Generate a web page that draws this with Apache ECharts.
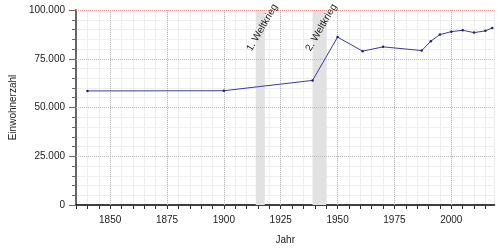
<!DOCTYPE html>
<html><head><meta charset="utf-8">
<script src="https://cdn.jsdelivr.net/npm/echarts@6/dist/echarts.min.js"></script>
<style>html,body{margin:0;padding:0;background:#fff}#c{width:500px;height:250px}</style>
</head><body><div id="c"></div>
<script>
const years = [1840,1900,1939,1950,1961,1970,1987,1991,1995,2000,2005,2010,2015,2018];
const population = [58500,58600,63900,86100,78900,81100,79200,84000,87400,88900,89600,88400,89300,90800];
const majorYears = [1850,1875,1900,1925,1950,1975,2000];
const majorValues = [25000,50000,75000];
const topValue = 100000;
const warNames = ['1. Weltkrieg','2. Weltkrieg'];
const warStart = [1914,1939];
const warEnd = [1918,1945];

const FONT = 'Liberation Sans, Arial, sans-serif';
const fmtNum = v => String(v).replace(/\B(?=(\d{3})+(?!\d))/g, '.');

const chart = echarts.init(document.getElementById('c'), null, {renderer:'canvas'});
const option = {
  animation: false,
  backgroundColor: '#fff',
  grid: {left: 75, top: 10, right: 5.5, bottom: 44, containLabel: false},
  xAxis: {
    type: 'value', min: 1835, max: 2019, interval: 5,
    name: 'Jahr', nameLocation: 'middle', nameGap: 30,
    nameTextStyle: {fontFamily: FONT, fontSize: 10, color: '#222'},
    axisLine: {show: true, onZero: false, lineStyle: {color: '#000', width: 1.5}},
    axisTick: {show: true, length: 4, lineStyle: {color: '#333'}},
    axisLabel: {margin: 10, fontFamily: FONT, fontSize: 10, color: '#222',
      formatter: v => (v % 25 === 0 ? String(v) : ''), showMaxLabel: false},
    splitLine: {show: true, lineStyle: {color: '#eeeeee', width: 1}}
  },
  yAxis: {
    type: 'value', min: 0, max: 100000, interval: 25000,
    name: 'Einwohnerzahl', nameLocation: 'middle', nameGap: 58,
    nameTextStyle: {fontFamily: FONT, fontSize: 10, color: '#222'},
    axisLine: {show: true, lineStyle: {color: '#666', width: 2}},
    axisTick: {show: true, length: 7, lineStyle: {color: '#666'}},
    minorTick: {show: true, splitNumber: 5, length: 4, lineStyle: {color: '#666'}},
    minorSplitLine: {show: true, lineStyle: {color: '#eeeeee', width: 1}},
    axisLabel: {margin: 11, fontFamily: FONT, fontSize: 10, color: '#222', formatter: v => fmtNum(v)},
    splitLine: {show: false}
  },
  series: [{
    type: 'line',
    data: years.map((y, i) => [y, population[i]]),
    lineStyle: {color: '#3c3ca0', width: 1},
    itemStyle: {color: '#22226e'},
    symbol: 'circle', symbolSize: 2.5, showSymbol: true,
    z: 5,
    markArea: {
      silent: true,
      itemStyle: {color: '#e2e2e2'},
      label: {show: false},
      data: warStart.map((s, i) => [{xAxis: s}, {xAxis: warEnd[i]}])
    },
    markLine: {
      silent: true, symbol: 'none', animation: false,
      label: {show: false},
      lineStyle: {type: 'dotted', color: '#b8b8b8', width: 1},
      data: majorYears.map(x => ({xAxis: x}))
        .concat(majorValues.map(v => ({yAxis: v})))
        .concat([{yAxis: topValue, lineStyle: {type: 'dotted', color: '#f08a8a', width: 1}}])
    }
  }]
};
chart.setOption(option);

const graphics = warNames.map((name, i) => {
  const p = chart.convertToPixel({gridIndex: 0}, [(warStart[i] + warEnd[i]) / 2, 91000]);
  return {
    type: 'text', x: p[0] + 2, y: p[1], rotation: Math.PI / 3, z: 100,
    style: {text: name, fontFamily: FONT, fontSize: 10, fill: '#222', align: 'center', verticalAlign: 'middle'}
  };
});
chart.setOption({graphic: graphics});
</script>
</body></html>
